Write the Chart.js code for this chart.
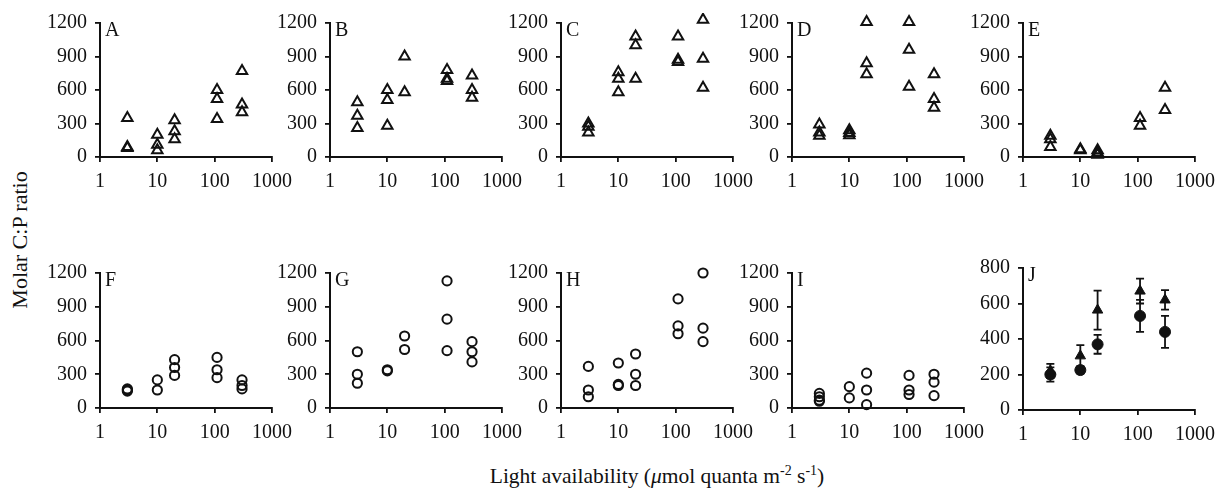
<!DOCTYPE html>
<html>
<head>
<meta charset="utf-8">
<script src="https://cdn.jsdelivr.net/npm/chart.js@4.4.0/dist/chart.umd.min.js"></script>
<style>
  body { margin: 0; background: #fff; width: 1218px; height: 493px; position: relative; overflow: hidden; }
  canvas { position: absolute; }
  .title { position: absolute; font-family: 'Liberation Serif', serif; color: #111; white-space: nowrap; }
  #ytitle { left: 20px; top: 240px; font-size: 22px; transform: translate(-50%, -50%) rotate(-90deg); }
  #xtitle { left: 657px; top: 476px; font-size: 21.5px; transform: translate(-50%, -50%); }
  sup { font-size: 14px; vertical-align: 8px; line-height: 0; }
</style>
</head>
<body>
<div class="title" id="ytitle">Molar C:P ratio</div>
<div class="title" id="xtitle">Light availability (<i>μ</i>mol quanta m<sup>-2</sup> s<sup>-1</sup>)</div>

<script>
// уровни освещённости (ось X)
const lightLevels = [3, 10, 20, 110, 300];
const xTicks = [1, 10, 100, 1000];

// верхний ряд: треугольники, по 2-3 повтора на уровень
const panelA = [[350, 90, 80], [200, 110, 60], [330, 230, 160], [600, 520, 340], [770, 470, 400]];
const panelB = [[490, 370, 260], [600, 510, 280], [900, 580], [780, 700, 680], [730, 600, 530]];
const panelC = [[300, 270, 220], [760, 700, 580], [1080, 1000, 700], [1080, 870, 850], [1230, 880, 620]];
const panelD = [[290, 220, 190], [240, 215, 195], [1210, 840, 740], [1210, 960, 630], [740, 520, 440]];
const panelE = [[190, 160, 90], [70, 60], [60, 40, 20], [350, 280], [620, 420]];

// нижний ряд: кружки
const panelF = [[170, 160, 150], [250, 160], [430, 360, 290], [450, 340, 270], [250, 200, 170]];
const panelG = [[500, 300, 220], [340, 330], [640, 520], [1130, 790, 510], [590, 500, 410]];
const panelH = [[370, 160, 100], [400, 210, 200], [480, 300, 200], [970, 730, 660], [1200, 710, 590]];
const panelI = [[130, 100, 70, 60], [190, 90], [310, 160, 30], [290, 160, 120], [300, 230, 110]];

// панель J: средние и ошибки
const triMeans = [220, 305, 563, 670, 620];
const triErr = [40, 60, 110, 70, 55];
const dotMeans = [200, 225, 370, 530, 440];
const dotErr = [40, 20, 53, 90, 90];

const axisLeft = [100, 330, 561, 792, 1023];

const panels = [
  { letter: 'A', reps: panelA, style: 'triangle', col: 0, top: 23, h: 130 },
  { letter: 'B', reps: panelB, style: 'triangle', col: 1, top: 23, h: 130 },
  { letter: 'C', reps: panelC, style: 'triangle', col: 2, top: 23, h: 130 },
  { letter: 'D', reps: panelD, style: 'triangle', col: 3, top: 23, h: 130 },
  { letter: 'E', reps: panelE, style: 'triangle', col: 4, top: 23, h: 130 },
  { letter: 'F', reps: panelF, style: 'circle', col: 0, top: 273, h: 131 },
  { letter: 'G', reps: panelG, style: 'circle', col: 1, top: 273, h: 131 },
  { letter: 'H', reps: panelH, style: 'circle', col: 2, top: 273, h: 131 },
  { letter: 'I', reps: panelI, style: 'circle', col: 3, top: 273, h: 131 },
  { letter: 'J', reps: null, style: 'mean', col: 4, top: 268, h: 138 }
];

const serif = 'Liberation Serif';
const padTop = 10, yAxisW = 60, areaW = 172, padRight = 30, xAxisH = 40;

function toPoints(reps) {
  const pts = [];
  reps.forEach((vals, i) => vals.forEach(v => pts.push({ x: lightLevels[i], y: v })));
  return pts;
}

// подпись панели в левом верхнем углу
const letterPlugin = {
  id: 'letter',
  afterDraw(chart, args, opts) {
    const ctx = chart.ctx, a = chart.chartArea;
    ctx.save();
    ctx.font = '20px ' + serif;
    ctx.fillStyle = '#111';
    ctx.textBaseline = 'top';
    ctx.fillText(opts.text, a.left + 5, a.top - 2);
    ctx.restore();
  }
};

// усы ошибок для панели J
const errorBarPlugin = {
  id: 'errorBars',
  beforeDatasetsDraw(chart, args, opts) {
    if (!opts.errors) return;
    const ctx = chart.ctx, xs = chart.scales.x, ys = chart.scales.y;
    ctx.save();
    ctx.strokeStyle = '#111';
    ctx.lineWidth = 1.8;
    opts.errors.forEach(e => {
      e.means.forEach((m, i) => {
        const px = xs.getPixelForValue(lightLevels[i]);
        const top = ys.getPixelForValue(m + e.err[i]);
        const bot = ys.getPixelForValue(m - e.err[i]);
        ctx.beginPath();
        ctx.moveTo(px, top); ctx.lineTo(px, bot);
        ctx.moveTo(px - 4, top); ctx.lineTo(px + 4, top);
        ctx.moveTo(px - 4, bot); ctx.lineTo(px + 4, bot);
        ctx.stroke();
      });
    });
    ctx.restore();
  }
};

function makePanel(p) {
  const canvas = document.createElement('canvas');
  const w = yAxisW + areaW + padRight;
  const h = padTop + p.h + xAxisH + 4;
  canvas.width = w; canvas.height = h;
  canvas.style.left = (axisLeft[p.col] - yAxisW) + 'px';
  canvas.style.top = (p.top - padTop) + 'px';
  document.body.appendChild(canvas);

  let datasets, errors = null;
  if (p.style === 'mean') {
    datasets = [
      { data: triMeans.map((v, i) => ({ x: lightLevels[i], y: v })), pointStyle: 'triangle', pointRadius: 6,
        backgroundColor: '#111', borderColor: '#111', borderWidth: 1, clip: false },
      { data: dotMeans.map((v, i) => ({ x: lightLevels[i], y: v })), pointStyle: 'circle', pointRadius: 5.5,
        backgroundColor: '#111', borderColor: '#111', borderWidth: 1, clip: false }
    ];
    errors = [{ means: triMeans, err: triErr }, { means: dotMeans, err: dotErr }];
  } else {
    datasets = [{
      data: toPoints(p.reps),
      pointStyle: p.style,
      pointRadius: p.style === 'triangle' ? 6 : 4.6,
      backgroundColor: 'rgba(255,255,255,0)',
      borderColor: '#111',
      borderWidth: 2,
      clip: false
    }];
  }

  const yMax = p.style === 'mean' ? 800 : 1200;
  const yStep = p.style === 'mean' ? 200 : 300;

  new Chart(canvas, {
    type: 'scatter',
    data: { datasets },
    plugins: [letterPlugin, errorBarPlugin],
    options: {
      responsive: false,
      animation: false,
      layout: { padding: { top: padTop, right: padRight, left: 0, bottom: 0 } },
      plugins: {
        legend: { display: false },
        tooltip: { enabled: false },
        letter: { text: p.letter },
        errorBars: { errors }
      },
      scales: {
        x: {
          type: 'logarithmic',
          min: 1, max: 1000,
          afterBuildTicks: s => { s.ticks = xTicks.map(v => ({ value: v })); },
          afterFit: s => { s.height = xAxisH; s.paddingLeft = 0; s.paddingRight = 0; },
          ticks: { font: { family: serif, size: 20 }, color: '#111', padding: 8, maxRotation: 0,
                   callback: v => String(v) },
          grid: { drawOnChartArea: false, drawTicks: true, tickLength: 5, color: '#111', lineWidth: 1.8 },
          border: { display: true, color: '#111', width: 2 }
        },
        y: {
          min: 0, max: yMax,
          afterFit: s => { s.width = yAxisW; s.paddingTop = 0; s.paddingBottom = 0; },
          ticks: { stepSize: yStep, font: { family: serif, size: 20 }, color: '#111', padding: 8,
                   callback: v => String(v) },
          grid: { drawOnChartArea: false, drawTicks: true, tickLength: 5, color: '#111', lineWidth: 1.8 },
          border: { display: true, color: '#111', width: 2 }
        }
      }
    }
  });
}

panels.forEach(makePanel);
</script>
</body>
</html>
